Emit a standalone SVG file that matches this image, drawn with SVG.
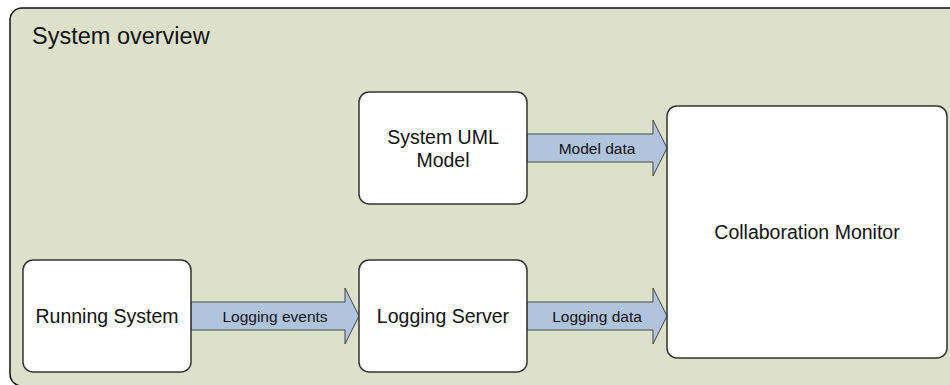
<svg xmlns="http://www.w3.org/2000/svg" width="950" height="385" viewBox="0 0 950 385">
<style>
.frame{fill:#dde0ca;stroke:#111;stroke-width:1.5}
.node{fill:#fff;stroke:#333;stroke-width:1.5}
.arrow{fill:#b0c4de;stroke:#444;stroke-width:1}
.t{font-family:"Liberation Sans",Arial,sans-serif;fill:#111;text-anchor:middle}
.nt{font-size:19.5px}
.at{font-size:15.5px}
</style>
<rect width="950" height="385" fill="#fff"/>
<g id="frame">
<rect class="frame" x="10" y="8" width="960" height="378" rx="12"/>
<text class="t" x="32" y="44" style="font-size:23.5px;text-anchor:start">System overview</text>
</g>
<g id="connectors">
<g id="c-logging-events">
<path class="arrow" d="M191,302 H345 V288 L359,316 L345,344 V330 H191 Z"/>
<text class="t at" x="275" y="321.5">Logging events</text>
</g>
<g id="c-logging-data">
<path class="arrow" d="M527,302 H653 V288 L667,316 L653,344 V330 H527 Z"/>
<text class="t at" x="597" y="321.5">Logging data</text>
</g>
<g id="c-model-data">
<path class="arrow" d="M527,134 H653 V120 L667,148 L653,176 V162 H527 Z"/>
<text class="t at" x="597" y="153.5">Model data</text>
</g>
</g>
<g id="running-system">
<rect class="node" x="23" y="260" width="168" height="112" rx="10"/>
<text class="t nt" x="107" y="323">Running System</text>
</g>
<g id="logging-server">
<rect class="node" x="359" y="260" width="168" height="112" rx="10"/>
<text class="t nt" x="443" y="323">Logging Server</text>
</g>
<g id="system-uml-model">
<rect class="node" x="359" y="92" width="168" height="112" rx="10"/>
<text class="t nt" x="443" y="143.5">System UML</text>
<text class="t nt" x="443" y="166.5">Model</text>
</g>
<g id="collaboration-monitor">
<rect class="node" x="667" y="106" width="280" height="252" rx="10"/>
<text class="t nt" x="807" y="238.5">Collaboration Monitor</text>
</g>
</svg>
